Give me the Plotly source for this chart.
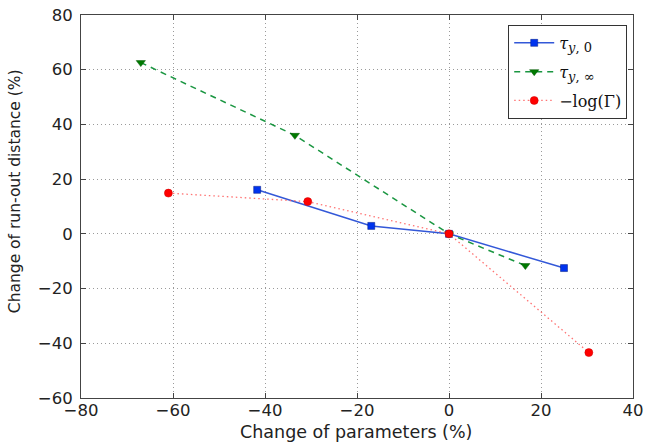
import plotly.graph_objects as go

# Data
x_tau0 = [-41.7, -16.9, 0, 25.0]
y_tau0 = [16.1, 2.9, 0, -12.5]
x_tauinf = [-67.0, -33.5, 0, 16.6]
y_tauinf = [62.6, 36.0, 0, -11.6]
x_gamma = [-61.0, -30.7, 0, 30.4]
y_gamma = [14.9, 11.8, 0, -43.4]

names = ['<i>τ</i><sub><span style="font-size:13px"><i>y</i>, 0</span></sub>',
         '<i>τ</i><sub><span style="font-size:13px"><i>y</i>, ∞</span></sub>',
         "−log(Γ)"]
x_title = "Change of parameters (%)"
y_title = "Change of run-out distance (%)"

fig = go.Figure()
fig.add_trace(go.Scatter(x=x_tau0, y=y_tau0, mode="lines+markers", name=names[0], legendgroup="a",
                         line=dict(color="#3358d8", width=1.5),
                         marker=dict(symbol="square", size=7, color="#0033ee",
                                     line=dict(color="#001a80", width=0.5))))
fig.add_trace(go.Scatter(x=x_tauinf, y=y_tauinf, mode="lines+markers", name=names[1], legendgroup="b",
                         line=dict(color="#1a9641", width=1.5, dash="6px,5px"),
                         marker=dict(symbol="triangle-down", size=8, color="#007a00",
                                     line=dict(color="#005500", width=0.5))))
fig.add_trace(go.Scatter(x=x_gamma, y=y_gamma, mode="lines+markers", name=names[2], legendgroup="c",
                         line=dict(color="rgba(255,90,90,0.85)", width=1.3, dash="1.5px,3px"),
                         marker=dict(symbol="circle", size=8, color="#ff0000",
                                     line=dict(color="#cc0000", width=0.5))))

axis_common = dict(showline=True, linecolor="#444", linewidth=1, mirror="ticks",
                   ticks="inside", ticklen=5, tickcolor="#444", automargin=False,
                   showgrid=True, gridcolor="#9a9a9a", griddash="1px,3px", gridwidth=1,
                   zeroline=False, tickfont=dict(family="DejaVu Sans", size=16.5, color="#222"))

fig.update_xaxes(range=[-80, 40], dtick=20, ticklabelstandoff=-3, **axis_common)
fig.update_yaxes(range=[-60, 80], dtick=20, ticklabelstandoff=4, **axis_common)

fig.add_annotation(text=x_title, xref="paper", yref="paper", x=0.499, y=-0.1201,
                   xanchor="center", yanchor="bottom", showarrow=False,
                   font=dict(family="DejaVu Sans", size=17.5, color="#222"))
fig.add_annotation(text=y_title, xref="paper", yref="paper", x=-0.1196, y=0.540,
                   xanchor="center", yanchor="middle", showarrow=False, textangle=-90,
                   font=dict(family="DejaVu Sans", size=15.5, color="#222"))

fig.update_layout(
    width=645, height=444,
    margin=dict(l=81, r=12, t=15, b=46),
    plot_bgcolor="white", paper_bgcolor="white",
    legend=dict(x=0.9895, y=0.974, xanchor="right", yanchor="top",
                bgcolor="white", bordercolor="#333", borderwidth=1,
                font=dict(family="DejaVu Serif", size=16, color="#111"),
                itemwidth=40, tracegroupgap=5),
    showlegend=True,
)

fig.write_html("out.html", config={"displayModeBar": False},
               post_script="document.body.style.margin='0';")
